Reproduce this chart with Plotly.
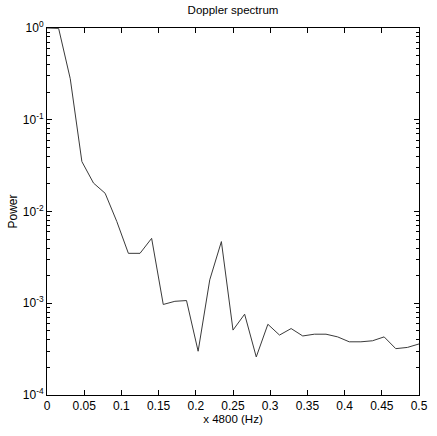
import plotly.graph_objects as go

freq = [0.0, 0.015625, 0.03125, 0.046875, 0.0625, 0.078125, 0.09375, 0.109375,
        0.125, 0.140625, 0.15625, 0.171875, 0.1875, 0.203125, 0.21875, 0.234375,
        0.25, 0.265625, 0.28125, 0.296875, 0.3125, 0.328125, 0.34375, 0.359375,
        0.375, 0.390625, 0.40625, 0.421875, 0.4375, 0.453125, 0.46875, 0.484375, 0.5]
power = [1.0, 0.99, 0.28, 0.035, 0.0204, 0.0158, 0.0078, 0.0035,
         0.0035, 0.0051, 0.00097, 0.00105, 0.00107, 0.00030, 0.0018, 0.0047,
         0.00051, 0.00076, 0.00026, 0.00059, 0.00045, 0.00053, 0.00044, 0.00046,
         0.00046, 0.00043, 0.00038, 0.00038, 0.00039, 0.00043, 0.00032, 0.00033, 0.00036]

x_ticks = [0, 0.05, 0.1, 0.15, 0.2, 0.25, 0.3, 0.35, 0.4, 0.45, 0.5]
x_ticklabels = ["0", "0.05", "0.1", "0.15", "0.2", "0.25", "0.3", "0.35", "0.4", "0.45", "0.5"]
y_ticks = [1e-4, 1e-3, 1e-2, 1e-1, 1e0]
y_ticklabels = ["10<sup>-4</sup>", "10<sup>-3</sup>", "10<sup>-2</sup>", "10<sup>-1</sup>", "10<sup>0</sup>"]

minor_y = [m * d for d in [1e-4, 1e-3, 1e-2, 1e-1] for m in range(2, 10)]

font = "Liberation Sans, Arial, sans-serif"

fig = go.Figure()
fig.add_trace(go.Scatter(x=freq, y=power, mode="lines",
                         line=dict(color="#3a3a3a", width=1), showlegend=False))

fig.update_layout(
    width=437, height=436, autosize=False,
    margin=dict(l=47, r=9, t=28, b=41),
    paper_bgcolor="white", plot_bgcolor="white",
    font=dict(family=font, size=12, color="black"),
    title=dict(text="Doppler spectrum", x=0.5, xanchor="center", xref="paper",
               y=0.977, yanchor="middle", font=dict(size=11.5, family=font)),
)
fig.update_xaxes(
    range=[0, 0.5], tickvals=x_ticks, ticktext=x_ticklabels,
    ticks="inside", ticklen=5, tickcolor="black", tickwidth=1,
    showline=True, linecolor="black", linewidth=1, mirror="ticks",
    showgrid=False, zeroline=False,
    title=dict(text="x 4800 (Hz)", standoff=2, font=dict(size=11.5)),
    tickfont=dict(size=12),
)
fig.update_yaxes(
    type="log", range=[-4, 0], tickvals=y_ticks, ticktext=y_ticklabels,
    ticks="inside", ticklen=5, tickcolor="black", tickwidth=1,
    minor=dict(tickvals=minor_y, ticks="inside", ticklen=3, tickcolor="black", showgrid=False),
    showline=True, linecolor="black", linewidth=1, mirror="ticks",
    showgrid=False, zeroline=False,
    title=dict(text="Power", standoff=2, font=dict(size=12)),
    tickfont=dict(size=12),
)

fig.write_html("out.html", config={"displayModeBar": False},
               post_script="document.body.style.margin='0';document.body.style.overflow='hidden';")
